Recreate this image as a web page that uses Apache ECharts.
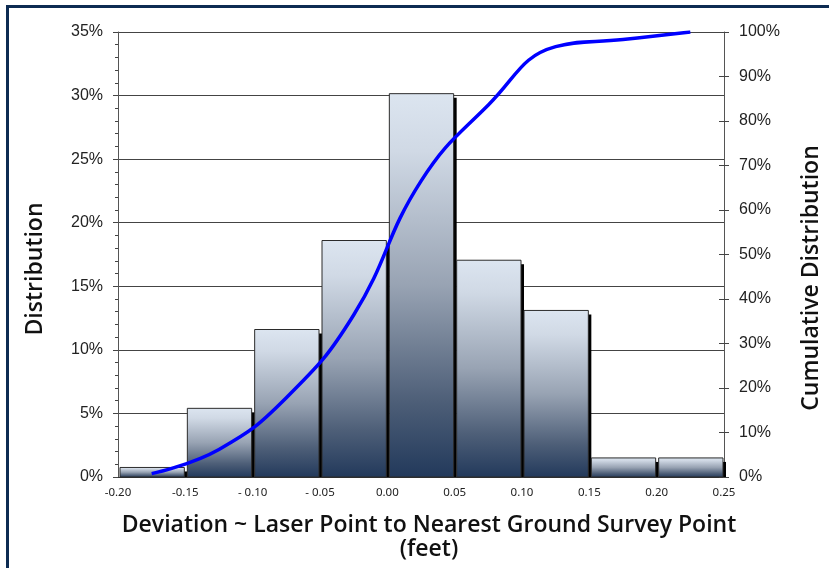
<!DOCTYPE html>
<html>
<head>
<meta charset="utf-8">
<script src="https://cdn.jsdelivr.net/npm/echarts@6/dist/echarts.min.js"></script>
<style>
html, body { margin: 0; padding: 0; background: #fff; }
#main { width: 829px; height: 568px; }
</style>
</head>
<body>
<div id="main"></div>
<script>
// bins of deviation (feet), lower edges
var binStarts = [-0.20, -0.15, -0.10, -0.05, 0.00, 0.05, 0.10, 0.15, 0.20]
var binWidth = 0.05
// distribution per bin (%)
var distribution = [0.75, 5.4, 11.6, 18.6, 30.15, 17.05, 13.1, 1.5, 1.5]
// cumulative distribution at bin mid points (%)
var cumMid = [-0.175, -0.125, -0.075, -0.025, 0.025, 0.075, 0.125, 0.175, 0.225]
var cumulative = [0.75, 6.2, 17.8, 36.4, 66.5, 83.6, 96.7, 98.3, 100]
// x tick labels as printed
var xTickLabels = ['-0.20', '-0.15', '- 0.10', '- 0.05', '0.00', '0.05', '0.10', '0.15', '0.20', '0.25']

var chart = echarts.init(document.getElementById('main'))

var barData = binStarts.map(function (s, i) {
	return [s, s + binWidth, distribution[i]]
})
var lineData = cumMid.map(function (x, i) {
	return [x, cumulative[i]]
})

var barFill = new echarts.graphic.LinearGradient(0, 0, 0, 1, [
	{ offset: 0, color: '#dce5f0' },
	{ offset: 0.15, color: '#d0d9e5' },
	{ offset: 0.5, color: '#98a3b3' },
	{ offset: 0.8, color: '#4e5f78' },
	{ offset: 1, color: '#22395b' }
])

function renderBar (params, api) {
	var p0 = api.coord([api.value(0), api.value(2)])
	var p1 = api.coord([api.value(1), 0])
	var x0 = p0[0] + 2
	var x1 = p1[0] - 1
	var top = p0[1]
	var bottom = p1[1]
	return {
		type: 'group',
		children: [
			{
				type: 'rect',
				shape: { x: x1 - 1, y: top + 4, width: 4, height: bottom - top - 4 },
				style: { fill: '#000' }
			},
			{
				type: 'rect',
				shape: { x: x0, y: top, width: x1 - x0, height: bottom - top },
				style: { fill: barFill, stroke: '#2b2b2b', lineWidth: 1 }
			}
		]
	}
}

var titleFont = '600 23px "Open Sans"'

var option = {
	animation: false,
	backgroundColor: '#fff',
	grid: { left: 118, right: 105, top: 32, bottom: 91, containLabel: false },
	xAxis: {
		type: 'value',
		min: -0.2,
		max: 0.25,
		interval: 0.05,
		splitLine: { show: false },
		axisTick: { show: false },
		axisLine: { show: true, onZero: false, lineStyle: { color: '#333', width: 1 } },
		axisLabel: {
			fontFamily: 'Noto Sans',
			fontSize: 11.5,
			color: '#222',
			margin: 10,
			formatter: function (v) {
				return xTickLabels[Math.round((v + 0.2) / binWidth)]
			}
		},
		name: 'Deviation ~ Laser Point to Nearest Ground Survey Point\n(feet)',
		nameLocation: 'middle',
		nameGap: 36,
		nameTextStyle: {
			fontFamily: 'Open Sans',
			fontWeight: 600,
			fontSize: 23,
			color: '#111',
			lineHeight: 24,
			verticalAlign: 'top',
			padding: [0, 0, 0, 16]
		}
	},
	yAxis: [
		{
			type: 'value',
			min: 0,
			max: 35,
			interval: 5,
			position: 'left',
			axisLine: { show: true, onZero: false, lineStyle: { color: '#555' } },
			axisTick: { show: true, length: 5, lineStyle: { color: '#444' } },
			minorTick: { show: true, splitNumber: 5, length: 3, lineStyle: { color: '#444' } },
			splitLine: { show: true, lineStyle: { color: '#444', width: 1 } },
			axisLabel: {
				formatter: '{value}%',
				fontFamily: 'Liberation Sans',
				fontSize: 16,
				color: '#222',
				margin: 15
			}
		},
		{
			type: 'value',
			min: 0,
			max: 100,
			interval: 10,
			position: 'right',
			axisLine: { show: true, onZero: false, lineStyle: { color: '#555' } },
			axisTick: { show: true, length: 5, lineStyle: { color: '#444' } },
			splitLine: { show: false },
			axisLabel: {
				formatter: '{value}%',
				fontFamily: 'Liberation Sans',
				fontSize: 16,
				color: '#222',
				margin: 15
			}
		},
		{
			// inner half of the crossing ticks on the right axis
			type: 'value',
			min: 0,
			max: 100,
			interval: 10,
			position: 'right',
			axisLine: { show: false, onZero: false },
			axisTick: { show: true, inside: true, length: 5, lineStyle: { color: '#444' } },
			splitLine: { show: false },
			axisLabel: { show: false }
		}
	],
	series: [
		{
			name: 'Distribution',
			type: 'custom',
			renderItem: renderBar,
			encode: { x: [0, 1], y: 2 },
			data: barData,
			z: 2
		},
		{
			name: 'Cumulative',
			type: 'line',
			yAxisIndex: 1,
			smooth: 0.45,
			showSymbol: false,
			lineStyle: { color: '#0000ff', width: 3.5 },
			data: lineData,
			z: 3
		}
	],
	graphic: [
		{
			type: 'text',
			x: 35,
			y: 269,
			rotation: Math.PI / 2,
			style: { text: 'Distribution', font: titleFont, fill: '#111', align: 'center', verticalAlign: 'middle' }
		},
		{
			type: 'text',
			x: 811,
			y: 278,
			rotation: Math.PI / 2,
			style: { text: 'Cumulative Distribution', font: titleFont, fill: '#111', align: 'center', verticalAlign: 'middle' }
		},
		{
			type: 'line',
			shape: { x1: 6, y1: 6.5, x2: 829, y2: 6.5 },
			style: { stroke: '#0d2b52', lineWidth: 3 }
		},
		{
			type: 'line',
			shape: { x1: 7.5, y1: 5, x2: 7.5, y2: 568 },
			style: { stroke: '#0d2b52', lineWidth: 3 }
		}
	]
}

chart.setOption(option)
</script>
</body>
</html>
